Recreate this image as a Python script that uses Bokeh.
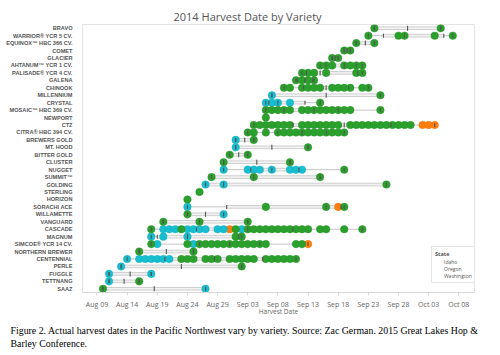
import numpy as np
from bokeh.plotting import figure
from bokeh.models import (ColumnDataSource, FactorRange, FixedTicker, Title,
                          Legend, LegendItem, Range1d)
from bokeh.embed import file_html
from bokeh.resources import INLINE

# Days are counted from Aug 01 = 1 (Sep 01 = 32, Oct 01 = 62)
varieties = ["BRAVO", "WARRIOR® YCR 5 CV.", "EQUINOX™ HBC 366 CV.", "COMET", "GLACIER",
             "AHTANUM™ YCR 1 CV.", "PALISADE® YCR 4 CV.", "GALENA", "CHINOOK", "MILLENNIUM",
             "CRYSTAL", "MOSAIC™ HBC 369 CV.", "NEWPORT", "CTZ", "CITRA® HBC 394 CV.",
             "BREWERS GOLD", "MT. HOOD", "BITTER GOLD", "CLUSTER", "NUGGET", "SUMMIT™",
             "GOLDING", "STERLING", "HORIZON", "SORACHI ACE", "WILLAMETTE", "VANGUARD",
             "CASCADE", "MAGNUM", "SIMCOE® YCR 14 CV.", "NORTHERN BREWER", "CENTENNIAL",
             "PERLE", "FUGGLE", "TETTNANG", "SAAZ"]

washington = [
    [55, 66],
    [54, 59, 60, 65, 68],
    [52, 55],
    [50, 51],
    [48, 49],
    [46, 47, 48, 50, 51, 52, 53],
    [43, 44, 45, 47, 52, 53],
    [42, 43, 44, 45],
    [40, 41, 43, 44, 45, 46, 48, 49, 50, 51, 53, 54],
    [56],
    [46],
    [37, 38, 39, 40, 41, 43, 44, 45, 46, 47, 48, 49, 50, 51, 56],
    [37],
    [35, 36, 37, 38, 39, 40, 41, 43, 44, 45, 46, 47, 48, 49,
     51, 52, 53, 54, 55, 56, 57, 58, 59, 60, 61],
    [34, 35, 37, 39, 40, 41, 42, 43, 44, 45, 46, 47, 48, 49, 50],
    [35],
    [44],
    [31, 34],
    [30, 41],
    [50],
    [28, 35, 46],
    [57],
    [26],
    [24],
    [37, 47, 50],
    [24],
    [20, 26, 34],
    [18, 23, 32, 34, 35, 36, 37, 38, 39, 40, 41, 42, 43, 44, 46, 47, 50, 53],
    [32, 33],
    [18, 24, 26, 27, 28, 29, 30, 31, 32, 33, 34, 35, 36, 37, 42, 43],
    [16, 25],
    [23, 24, 25, 27, 28, 29, 31, 32, 33, 34, 35, 37, 38, 39, 40, 41, 42],
    [33],
    [],
    [16],
    [10],
]

oregon = [
    [], [], [], [], [], [], [], [], [],
    [38],
    [37, 38, 39, 41],
    [], [], [], [],
    [32],
    [32],
    [], [],
    [30, 34, 35, 36, 38, 41, 42, 43],
    [],
    [27, 30],
    [], [],
    [24],
    [30],
    [],
    [20, 21, 22, 24, 25, 26, 27, 29, 30, 33],
    [18, 20, 24],
    [19, 25],
    [],
    [14, 16, 17, 18, 19, 20, 21],
    [13],
    [11, 18],
    [11],
    [27],
]

idaho = [
    [], [], [], [], [], [], [], [], [], [], [], [], [],
    [63, 64, 65],
    [], [], [], [], [], [], [], [], [], [],
    [49],
    [],
    [],
    [31],
    [],
    [44],
    [], [], [], [], [], [],
]

states = ["Idaho", "Oregon", "Washington"]
state_colors = ["#ff7f0e", "#17becf", "#2ca02c"]
state_edges = ["#e06d0a", "#13aab9", "#26912a"]

tick_days = [9, 14, 19, 24, 29, 34, 39, 44, 49, 54, 59, 64, 69]
tick_labels = ["Aug 09", "Aug 14", "Aug 19", "Aug 24", "Aug 29", "Sep 03", "Sep 08",
               "Sep 13", "Sep 18", "Sep 23", "Sep 28", "Oct 03", "Oct 08"]

title_text = "2014 Harvest Date by Variety"
caption_1 = ("Figure 2. Actual harvest dates in the Pacific Northwest vary by variety. "
             "Source: Zac German. 2015 Great Lakes Hop &")
caption_2 = "Barley Conference."

# ---------------------------------------------------------------- figure
p = figure(width=500, height=355,
           x_range=Range1d(6.6, 71.6),
           y_range=FactorRange(factors=list(reversed(varieties))),
           output_backend="svg", toolbar_location=None,
           min_border_left=82, min_border_right=26,
           min_border_top=24, min_border_bottom=63)
p.background_fill_color = "white"
p.border_fill_color = "white"
p.outline_line_color = "#e4e4e4"
p.xgrid.grid_line_color = None
p.ygrid.grid_line_color = None

p.title.text = title_text
p.title.align = "left"
p.title.offset = 91
p.title.standoff = 2
p.title.text_font = "Open Sans"
p.title.text_font_style = "normal"
p.title.text_font_size = "11px"
p.title.text_color = "#555555"

# box-plot statistics per variety
stat = dict(v=[], lo=[], q1=[], med=[], q3=[], hi=[])
for i, v in enumerate(varieties):
    vals = np.array(washington[i] + oregon[i] + idaho[i], dtype=float)
    stat["v"].append(v)
    stat["lo"].append(vals.min())
    stat["hi"].append(vals.max())
    stat["q1"].append(np.percentile(vals, 25, method="weibull"))
    stat["med"].append(np.percentile(vals, 50, method="weibull"))
    stat["q3"].append(np.percentile(vals, 75, method="weibull"))

multi = [i for i in range(len(varieties))
         if len(washington[i] + oregon[i] + idaho[i]) > 1]
ms = ColumnDataSource({k: [stat[k][i] for i in multi] for k in stat})

p.segment(x0="lo", x1="hi", y0="v", y1="v", source=ms,
          line_color="#c4c4c4", line_width=1)
p.hbar(y="v", left="q1", right="q3", height=0.36, source=ms,
       fill_color="#f2f2f2", line_color="#c4c4c4", line_width=0.8)

legend_items = []
for s, col, edge, data in zip(states, state_colors, state_edges,
                              [idaho, oregon, washington]):
    xs, ys = [], []
    for i, v in enumerate(varieties):
        for d in data[i]:
            xs.append(d)
            ys.append(v)
    src = ColumnDataSource(dict(x=xs, y=ys))
    p.scatter(x="x", y="y", source=src, size=7.6, marker="circle",
              fill_color=col, line_color=edge, line_width=0.4)
    lr = p.scatter(x=[], y=[], marker="square", size=6,
                   fill_color=col, line_color=col)
    legend_items.append(LegendItem(label=s, renderers=[lr]))

for key, sz in [("q1", 4), ("q3", 4), ("lo", 4), ("hi", 4), ("med", 5)]:
    p.scatter(x=key, y="v", source=ms, marker="dash", angle=np.pi / 2,
              size=sz, line_color="#555555", line_width=1.1)

# ---------------------------------------------------------------- axes
p.xaxis.ticker = FixedTicker(ticks=tick_days)
p.xaxis.major_label_overrides = {d: t for d, t in zip(tick_days, tick_labels)}
p.xaxis.axis_label = "Harvest Date"
p.xaxis.axis_label_text_font = "Open Sans"
p.xaxis.axis_label_text_font_style = "normal"
p.xaxis.axis_label_text_font_size = "6.5px"
p.xaxis.axis_label_text_color = "#666666"
p.xaxis.axis_label_standoff = -5
p.xaxis.major_label_text_font = "Open Sans"
p.xaxis.major_label_text_font_size = "7px"
p.xaxis.major_label_text_color = "#666666"
p.xaxis.major_label_standoff = 4
p.xaxis.axis_line_color = "#d8d8d8"
p.xaxis.major_tick_line_color = "#d8d8d8"
p.xaxis.major_tick_out = 3
p.xaxis.major_tick_in = 0
p.xaxis.minor_tick_line_color = None

p.yaxis.major_label_text_font = "Liberation Sans"
p.yaxis.major_label_text_font_style = "bold"
p.yaxis.major_label_text_font_size = "5.6px"
p.yaxis.major_label_text_color = "#555555"
p.yaxis.major_label_standoff = 4
p.yaxis.axis_line_color = None
p.yaxis.major_tick_line_color = None
p.yaxis.minor_tick_line_color = None

# ---------------------------------------------------------------- legend
legend = Legend(items=legend_items, title="State", location=(349, 9),
                orientation="vertical", label_text_font="Open Sans",
                label_text_font_size="5px", label_text_color="#555555",
                title_text_font="Open Sans", title_text_font_size="5.5px",
                title_text_font_style="bold", title_text_color="#555555",
                title_standoff=1, glyph_width=6, glyph_height=6,
                label_height=6, label_width=10, label_standoff=3, spacing=1,
                padding=3, margin=0, border_line_color="#cccccc",
                background_fill_color="white", background_fill_alpha=1)
p.add_layout(legend)

# ---------------------------------------------------------------- caption
for txt, sd in [(caption_1, 9), (caption_2, -10)]:
    t = Title(text=txt, align="left", offset=-72, standoff=sd,
              text_font="Liberation Serif", text_font_style="normal",
              text_font_size="9.85px", text_color="#000000")
    p.add_layout(t, "below")

open("out.html", "w").write(file_html(p, INLINE))
